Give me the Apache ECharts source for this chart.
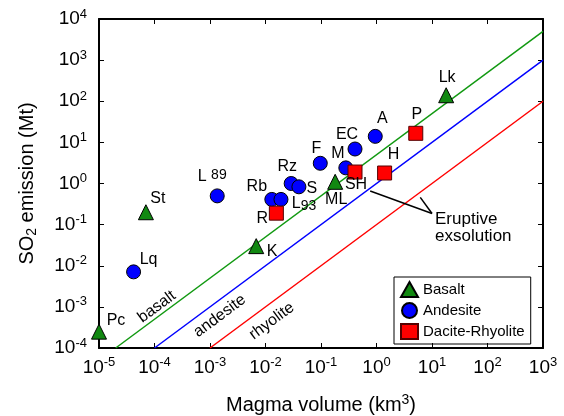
<!DOCTYPE html>
<html>
<head>
<meta charset="utf-8">
<script src="https://cdn.jsdelivr.net/npm/echarts@6/dist/echarts.min.js"></script>
<style>
  html, body { margin: 0; padding: 0; background: #fff; }
  #chart-container { width: 564px; height: 416px; }
</style>
</head>
<body>
<div id="chart-container"></div>
<script>
var dom = document.getElementById("chart-container");
var myChart = echarts.init(dom, null, { renderer: "canvas" });

const fontFamily = "Liberation Sans, Arial, sans-serif";

// data (magma volume km3, SO2 Mt)
const basaltNames = ["Pc", "St", "K", "ML", "Lk"];
const basaltVolume = [1.0e-5, 7e-5, 6.8e-3, 0.18, 18];
const basaltSO2 = [2.5e-4, 0.2, 0.03, 1.1, 140];

const andesiteNames = ["Lq", "L89", "Rb", "L93", "Rz", "S", "F", "M", "EC", "A"];
const andesiteVolume = [4.2e-5, 1.35e-3, 0.013, 0.019, 0.029, 0.04, 0.097, 0.28, 0.41, 0.95];
const andesiteSO2 = [7.1e-3, 0.5, 0.41, 0.41, 1.0, 0.83, 3.1, 2.4, 6.9, 14];

const daciteNames = ["R", "SH", "H", "P"];
const daciteVolume = [0.0157, 0.41, 1.4, 5.1];
const daciteSO2 = [0.19, 1.9, 1.8, 16.6];

// eruptive exsolution reference lines (end points)
const basaltLineX = [2e-5, 1e3];
const basaltLineY = [1e-4, 5e3];
const andesiteLineX = [1e-4, 1e3];
const andesiteLineY = [1e-4, 1e3];
const rhyoliteLineX = [1e-3, 1e3];
const rhyoliteLineY = [1e-4, 1e2];

// label placement (pixel offsets from the symbol)
const labelOffset = {
  Pc: [17, -11], St: [12, -14], K: [16, 5], ML: [1, 18], Lk: [1, -18],
  Lq: [15, -12], L89: [-5, -19], Rb: [-15, -13], L93: [23, 4], Rz: [-4, -17],
  S: [13, 2], F: [-4, -15], M: [-8, -14], EC: [-8, -14], A: [7, -18],
  R: [-14, 5], SH: [1, 13], H: [9, -18], P: [1, -19],
};

function pts(xs, ys, names) {
  return xs.map(function (x, i) {
    const d = { value: [x, ys[i]] };
    if (names) {
      d.name = names[i];
      d.label = { offset: labelOffset[names[i]] };
    }
    return d;
  });
}

function powLabel(v) {
  const e = Math.round(Math.log10(v));
  return "{b|10}{e|" + e + "}";
}

const powRich = {
  b: { fontSize: 19, fontFamily: fontFamily, color: "#000" },
  e: { fontSize: 13, fontFamily: fontFamily, color: "#000", padding: [0, 0, 10, 0] },
};

const pointLabel = {
  show: true,
  position: "inside",
  fontSize: 16,
  color: "#000",
  fontFamily: fontFamily,
  formatter: function (p) {
    if (p.name === "L89") return "{n|L }{sup|89}";
    if (p.name === "L93") return "{n|L}{sub|93}";
    return p.name;
  },
  rich: {
    n: { fontSize: 16, fontFamily: fontFamily, color: "#000" },
    sup: { fontSize: 14, fontFamily: fontFamily, color: "#000", padding: [0, 0, 3, 0] },
    sub: { fontSize: 14, fontFamily: fontFamily, color: "#000", padding: [5, 0, 0, 0] },
  },
};

function logAxis(pos, min, max, showLabel) {
  return {
    type: "log",
    logBase: 10,
    position: pos,
    min: min,
    max: max,
    splitNumber: 8,
    axisLine: { show: true, onZero: false, lineStyle: { color: "#000", width: 2 } },
    axisTick: { show: true, inside: true, length: 5, lineStyle: { color: "#000", width: 1 } },
    minorTick: { show: false },
    splitLine: { show: false },
    axisLabel: {
      show: showLabel,
      fontSize: 19,
      color: "#000",
      fontFamily: fontFamily,
      formatter: powLabel,
      rich: powRich,
    },
  };
}

const xBottom = logAxis("bottom", 1e-5, 1e3, true);
xBottom.axisLabel.margin = 8;
xBottom.name = "{t|Magma volume (km}{s|3}{t|)}";
xBottom.nameLocation = "middle";
xBottom.nameGap = 45;
xBottom.nameTextStyle = {
  rich: {
    t: { fontSize: 20, fontFamily: fontFamily, color: "#000" },
    s: { fontSize: 14, fontFamily: fontFamily, color: "#000", padding: [0, 0, 10, 0] },
  },
};
const xTop = logAxis("top", 1e-5, 1e3, false);

const yLeft = logAxis("left", 1e-4, 1e4, true);
yLeft.axisLabel.margin = 12;
yLeft.name = "{t|SO}{s|2}{t| emission (Mt)}";
yLeft.nameLocation = "middle";
yLeft.nameGap = 60;
yLeft.nameTextStyle = {
  rich: {
    t: { fontSize: 20, fontFamily: fontFamily, color: "#000" },
    s: { fontSize: 14, fontFamily: fontFamily, color: "#000", padding: [9, 0, 0, 0] },
  },
};
const yRight = logAxis("right", 1e-4, 1e4, false);

function refLine(xs, ys, color) {
  return {
    type: "line",
    data: pts(xs, ys),
    showSymbol: false,
    symbol: "none",
    silent: true,
    z: 1,
    lineStyle: { color: color, width: 1.5 },
  };
}

const option = {
  animation: false,
  textStyle: { fontFamily: fontFamily },
  grid: { left: 99, right: 21, top: 19, bottom: 68, outerBoundsMode: "none", containLabel: false },
  xAxis: [xBottom, xTop],
  yAxis: [yLeft, yRight],
  legend: {
    data: ["Basalt", "Andesite", "Dacite-Rhyolite"],
    orient: "vertical",
    left: 394,
    top: 277,
    borderColor: "#000",
    borderWidth: 1,
    borderRadius: 0,
    padding: [4, 6, 4, 6],
    itemGap: 4,
    itemWidth: 17,
    itemHeight: 15,
    textStyle: { fontSize: 15, color: "#000", fontFamily: fontFamily, lineHeight: 15 },
  },
  series: [
    refLine(basaltLineX, basaltLineY, "#119911"),
    refLine(andesiteLineX, andesiteLineY, "#0000ff"),
    refLine(rhyoliteLineX, rhyoliteLineY, "#ff0000"),
    {
      type: "line",
      data: pts([0.77, 10], [0.66, 0.187]),
      symbol: "none",
      silent: true,
      lineStyle: { color: "#000", width: 1.5 },
    },
    {
      type: "line",
      data: pts([6.15, 10], [0.46, 0.187]),
      symbol: "none",
      silent: true,
      lineStyle: { color: "#000", width: 1.5 },
    },
    {
      name: "Basalt",
      type: "scatter",
      symbol: "triangle",
      symbolSize: 15,
      clip: false,
      z: 3,
      itemStyle: { color: "#118811", borderColor: "#000", borderWidth: 1, opacity: 1 },
      label: pointLabel,
      data: pts(basaltVolume, basaltSO2, basaltNames),
    },
    {
      name: "Andesite",
      type: "scatter",
      symbol: "circle",
      symbolSize: 14,
      clip: false,
      z: 3,
      itemStyle: { color: "#0000ff", borderColor: "#000", borderWidth: 1, opacity: 1 },
      label: pointLabel,
      data: pts(andesiteVolume, andesiteSO2, andesiteNames),
    },
    {
      name: "Dacite-Rhyolite",
      type: "scatter",
      symbol: "rect",
      symbolSize: 14,
      clip: false,
      z: 3,
      itemStyle: { color: "#ff0000", borderColor: "#550000", borderWidth: 1, opacity: 1 },
      label: pointLabel,
      data: pts(daciteVolume, daciteSO2, daciteNames),
    },
  ],
};

myChart.setOption(option);

// text annotations placed at data coordinates
function at(x, y) {
  return myChart.convertToPixel({ xAxisIndex: 0, yAxisIndex: 0 }, [x, y]);
}
const slope = Math.atan2(41.1, 55.5);
function lineText(text, x, y) {
  const p = at(x, y);
  return {
    type: "text",
    x: p[0],
    y: p[1],
    rotation: slope,
    style: {
      text: text,
      fontSize: 16,
      fontFamily: fontFamily,
      fill: "#000",
      align: "center",
      verticalAlign: "middle",
    },
  };
}
const ann = at(10, 0.187);
myChart.setOption({
  graphic: [
    lineText("basalt", 1.1e-4, 1.0e-3),
    lineText("andesite", 1.5e-3, 6.0e-4),
    lineText("rhyolite", 1.3e-2, 4.5e-4),
    {
      type: "text",
      x: ann[0] + 3,
      y: ann[1] - 3,
      style: {
        text: "Eruptive\nexsolution",
        fontSize: 17,
        lineHeight: 17,
        fontFamily: fontFamily,
        fill: "#000",
        align: "left",
        verticalAlign: "top",
      },
    },
  ],
});

window.addEventListener("resize", myChart.resize);
</script>
</body>
</html>
